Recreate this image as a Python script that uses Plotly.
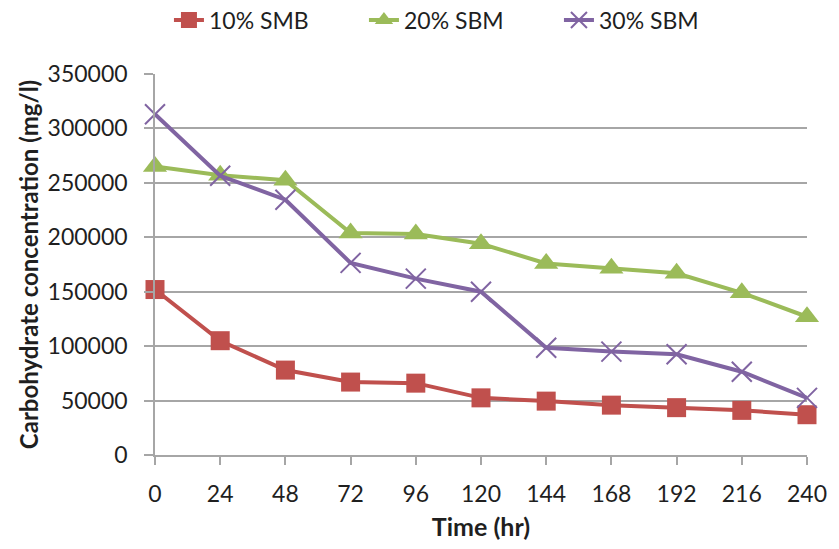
import plotly.graph_objects as go

time_hr = [0, 24, 48, 72, 96, 120, 144, 168, 192, 216, 240]
smb_10 = [152000, 105000, 78000, 67000, 66000, 52500, 49500, 45800, 43500, 41000, 37000]
sbm_20 = [265000, 257000, 252500, 204000, 203000, 194000, 176000, 171500, 167000, 149000, 127000]
sbm_30 = [313000, 256500, 234500, 176500, 162000, 150000, 98500, 95000, 92500, 76500, 52500]
y_ticks = [0, 50000, 100000, 150000, 200000, 250000, 300000, 350000]

FONT = "Lato"
TXT = "#1f1f1f"
GRID = "#A6A6A6"
fig = go.Figure()
fig.add_trace(go.Scatter(x=time_hr, y=smb_10, name="10% SMB", mode="lines+markers",
                         line=dict(color="#C0504D", width=4),
                         marker=dict(symbol="square", size=19, color="#C0504D"),
                         cliponaxis=False))
fig.add_trace(go.Scatter(x=time_hr, y=sbm_20, name="20% SBM", mode="lines+markers",
                         line=dict(color="#9BBB59", width=4),
                         marker=dict(symbol="triangle-up", size=21, color="#9BBB59"),
                         cliponaxis=False))
fig.add_trace(go.Scatter(x=time_hr, y=sbm_30, name="30% SBM", mode="lines+markers",
                         line=dict(color="#8064A2", width=4),
                         marker=dict(symbol="x-thin-open", size=20, color="#8064A2",
                                     line=dict(color="#8064A2", width=2)),
                         cliponaxis=False))

fig.update_layout(
    width=839, height=549,
    margin=dict(l=155, r=26, t=74, b=93),
    paper_bgcolor="white", plot_bgcolor="white",
    font=dict(family=FONT, size=23, color=TXT),
    legend=dict(orientation="h", x=0.55, xanchor="center", y=1 - 20 / 549, yanchor="middle",
                yref="container", xref="container", font=dict(family=FONT, size=23, color=TXT),
                entrywidth=150, entrywidthmode="pixels"),
    xaxis=dict(range=[0, 240], tickvals=time_hr, ticktext=[str(t) for t in time_hr],
               showgrid=False, zeroline=False, showline=True, linecolor=GRID, linewidth=1.5,
               ticks="outside", ticklen=8, tickcolor=GRID, tickwidth=1.5,
               ticklabelstandoff=10,
               tickfont=dict(family=FONT, size=23, color=TXT),
               title=dict(text="<b>Time (hr)</b>", font=dict(family=FONT, size=25, color=TXT), standoff=12)),
    yaxis=dict(range=[0, 350000], tickvals=y_ticks, ticktext=[str(v) for v in y_ticks],
               showgrid=True, gridcolor=GRID, gridwidth=1.5, zeroline=False,
               showline=True, linecolor=GRID, linewidth=1.5,
               ticks="outside", ticklen=9, tickcolor=GRID, tickwidth=1.5,
               ticklabelstandoff=12,
               tickfont=dict(family=FONT, size=23, color=TXT),
               title=dict(text="<b>Carbohydrate concentration (mg/l)</b>",
                          font=dict(family=FONT, size=24, color=TXT), standoff=2)),
)
fig.write_html("out.html")
